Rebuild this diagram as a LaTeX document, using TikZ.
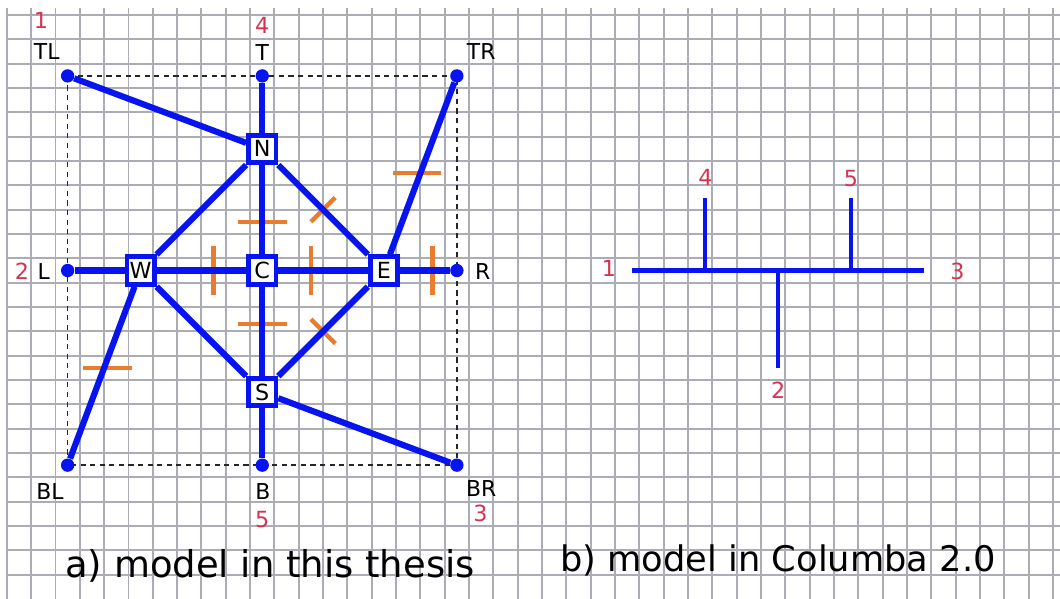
\documentclass[tikz,border=0pt]{standalone}
\usepackage{fontspec}
\setmainfont{DejaVu Sans}
\usetikzlibrary{positioning}

\definecolor{roadblue}{RGB}{8,20,240}
\definecolor{cutorange}{RGB}{232,125,48}
\definecolor{portred}{RGB}{212,52,82}
\definecolor{gridgray}{RGB}{172,172,180}

\begin{document}
\begin{tikzpicture}[
  x=0.5cm, y=0.5cm,
  gridline/.style={gridgray, line width=1.1pt},
  road/.style={roadblue, line width=3.6pt},
  link/.style={roadblue, line width=2.8pt},
  dot/.style={circle, fill=roadblue, inner sep=0pt, minimum size=7.8pt},
  cross/.style={rectangle, draw=roadblue, line width=2.8pt, fill=white, minimum size=16pt, inner sep=0pt, font=\fontsize{13}{13}\selectfont},
  lbl/.style={font=\fontsize{12.8}{14}\selectfont, inner sep=1pt},
  num/.style={text=portred, font=\fontsize{13}{14}\selectfont, inner sep=1pt},
  cut/.style={cutorange, line width=2.6pt},
  caption/.style={font=\fontsize{20.6}{24}\selectfont, anchor=base, inner sep=0pt}]

\useasboundingbox (-10.78,-13.5) rectangle (32.79,11.12);

% squared paper
\foreach \x in {-10.5,-9.5,...,32.5}
  \draw[gridline] (\x,10.79) -- (\x,-13.5);
\foreach \y in {-12.5,-11.5,...,10.5}
  \draw[gridline] (-10.5,\y) -- (32.79,\y);

% a) model in this thesis
\draw[black!85, line width=1pt, dash pattern=on 3pt off 2.6pt] (-8,8) rectangle (8,-8);

\node[dot] (TL) at (-8,8) {};
\node[dot] (T) at (0,8) {};
\node[dot] (TR) at (8,8) {};
\node[dot] (L) at (-8,0) {};
\node[dot] (R) at (8,0) {};
\node[dot] (BL) at (-8,-8) {};
\node[dot] (B) at (0,-8) {};
\node[dot] (BR) at (8,-8) {};

\node[cross] (N) at (0,5) {N};
\node[cross] (W) at (-5,0) {W};
\node[cross] (C) at (0,0) {C};
\node[cross] (E) at (5,0) {E};
\node[cross] (S) at (0,-5) {S};

\node[lbl] (TL-name) at (-8.86,9.0) {TL};
\node[lbl] (T-name) at (0,8.95) {T};
\node[lbl] (TR-name) at (9.0,9.0) {TR};
\node[lbl] (L-name) at (-8.98,-0.05) {L};
\node[lbl] (R-name) at (9.06,-0.05) {R};
\node[lbl] (BL-name) at (-8.73,-9.08) {BL};
\node[lbl] (B-name) at (0.03,-9.08) {B};
\node[lbl] (BR-name) at (9.0,-8.98) {BR};

\node[num] (TL-port) at (-9.1,10.28) {1};
\node[num] (T-port) at (0,10.06) {4};
\node[num] (L-port) at (-9.88,-0.02) {2};
\node[num] (B-port) at (0,-10.25) {5};
\node[num] (BR-port) at (8.97,-10.0) {3};

% cut marks
\draw[cut] (-1,2) -- (1,2);
\draw[cut] (-1,-2.2) -- (1,-2.2);
\foreach \x in {-2,2,7}
  \draw[cut] (\x,-1) -- (\x,1);
\draw[cut] (2,2) -- (3,3);
\draw[cut] (2,-2) -- (3,-3);
\draw[cut] (5.36,4) -- (7.36,4);
\draw[cut] (-7.37,-4) -- (-5.37,-4);

\draw[road] (T) -- (N);
\draw[road] (N) -- (C);
\draw[road] (C) -- (S);
\draw[road] (S) -- (B);
\draw[road] (L) -- (W);
\draw[road] (W) -- (C);
\draw[road] (C) -- (E);
\draw[road] (E) -- (R);
\draw[road] (N) -- (W);
\draw[road] (N) -- (E);
\draw[road] (S) -- (W);
\draw[road] (S) -- (E);
\draw[road] (TL) -- (N);
\draw[road] (TR) -- (E);
\draw[road] (BL) -- (W);
\draw[road] (BR) -- (S);

\node[caption, font=\fontsize{21.6}{24}\selectfont] (cap-a) at (0.32,-12.6) {a) model in this thesis};

% b) model in Columba 2.0
\coordinate (end1) at (15.2,0);
\coordinate (end3) at (27.2,0);
\coordinate (join4) at (18.2,0);
\coordinate (end4) at (18.2,3);
\coordinate (join2) at (21.2,0);
\coordinate (end2) at (21.2,-4);
\coordinate (join5) at (24.2,0);
\coordinate (end5) at (24.2,3);

\draw[link] (end1) -- (end3);
\draw[link] (join4) -- (end4);
\draw[link] (join2) -- (end2);
\draw[link] (join5) -- (end5);

\node[num] (port1) at (14.25,0.1) {1};
\node[num] (port3) at (28.57,-0.02) {3};
\node[num] (port4) at (18.22,3.82) {4};
\node[num] (port5) at (24.2,3.76) {5};
\node[num] (port2) at (21.21,-4.91) {2};

\node[caption] (cap-b) at (21.2,-12.37) {b) model in Columba 2.0};
\end{tikzpicture}
\end{document}
